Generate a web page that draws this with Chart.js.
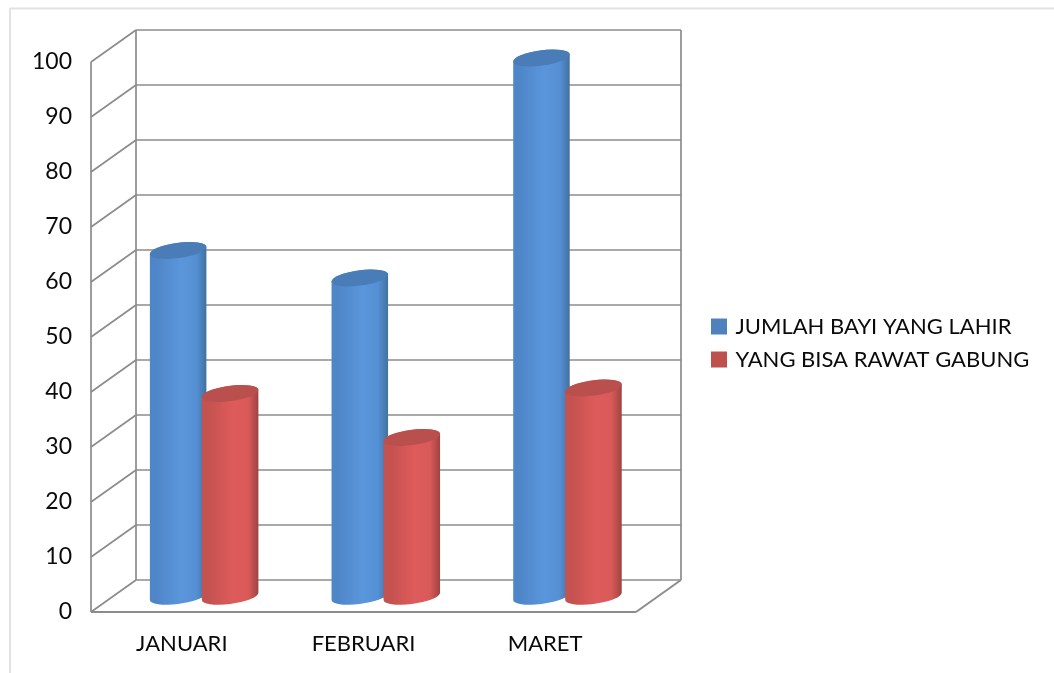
<!DOCTYPE html>
<html>
<head>
<meta charset="utf-8">
<style>
html,body{margin:0;padding:0;background:#fff;overflow:hidden}
#wrap{position:absolute;left:0;top:0;width:1054px;height:673px}
</style>
<script src="https://cdn.jsdelivr.net/npm/chart.js@4"></script>
</head>
<body>
<div id="wrap"><canvas id="c" width="1054" height="673"></canvas></div>
<script>
const categories = ['JANUARI', 'FEBRUARI', 'MARET'];
const bornName = 'JUMLAH BAYI YANG LAHIR';
const bornValues = [63, 58, 98];
const roomedName = 'YANG BISA RAWAT GABUNG';
const roomedValues = [37, 29, 38];
const FONT = 'Lato, Carlito, sans-serif';
const LINE = '#8c8c8c';
const DEPTH_X = 45, DEPTH_Y = 32;
const BAR_DX = 22.3, BAR_DY = 15;
const ROT = -7.7 * Math.PI / 180;
const shades = [
  {stops: ['#4f86c8', '#5a96dc', '#5590d4', '#41709f'], lid: '#4a7cb8'},
  {stops: ['#c4524f', '#de5b5b', '#d95959', '#9c4340'], lid: '#b9504d'}
];

function cylinder(ctx, el, shade) {
  const rx = el.width / 2 + 0.5, ry = 7.6;
  const cx = el.x + BAR_DX, top = el.y - BAR_DY, base = el.base - BAR_DY - 0.6;
  const t0 = Math.atan2(-ry * Math.sin(ROT), rx * Math.cos(ROT));
  const g = ctx.createLinearGradient(cx - rx, 0, cx + rx, 0);
  g.addColorStop(0, shade.stops[0]);
  g.addColorStop(0.12, shade.stops[0]);
  g.addColorStop(0.55, shade.stops[1]);
  g.addColorStop(0.82, shade.stops[2]);
  g.addColorStop(1, shade.stops[3]);
  ctx.beginPath();
  ctx.ellipse(cx, base, rx, ry, ROT, t0, t0 + Math.PI);
  ctx.ellipse(cx, top, rx, ry, ROT, t0 + Math.PI, t0 + 2 * Math.PI);
  ctx.closePath();
  ctx.fillStyle = g;
  ctx.fill();
  ctx.beginPath();
  ctx.ellipse(cx, top, rx, ry, ROT, 0, 2 * Math.PI);
  ctx.fillStyle = shade.lid;
  ctx.fill();
}

const stage = {
  id: 'stage',
  afterLayout(chart) {
    const l = chart.legend;
    l.top = 304.5;
    l.bottom = l.top + 200;
    l.left = 702.5;
    l.right = 1054;
  },
  beforeDraw(chart) {
    const ctx = chart.ctx;
    ctx.save();
    ctx.strokeStyle = '#e2e2e2';
    ctx.lineWidth = 2;
    ctx.beginPath();
    ctx.moveTo(10, 673);
    ctx.lineTo(10, 8.5);
    ctx.lineTo(1054, 8.5);
    ctx.stroke();
    ctx.restore();
  },
  beforeDatasetsDraw(chart) {
    const ctx = chart.ctx, y = chart.scales.y, a = chart.chartArea;
    const L = a.left, R = a.right, y0 = y.getPixelForValue(0);
    ctx.save();
    ctx.strokeStyle = LINE;
    ctx.lineWidth = 1.7;
    const seg = (x1, y1, x2, y2) => { ctx.beginPath(); ctx.moveTo(x1, y1); ctx.lineTo(x2, y2); ctx.stroke(); };
    y.ticks.forEach(t => {
      const p = y.getPixelForValue(t.value);
      seg(L, p, L + DEPTH_X, p - DEPTH_Y);
      seg(L + DEPTH_X, p - DEPTH_Y, R + DEPTH_X, p - DEPTH_Y);
    });
    const yTop = y.getPixelForValue(100);
    seg(L, yTop, L, y0);
    seg(L + DEPTH_X, yTop - DEPTH_Y, L + DEPTH_X, y0 - DEPTH_Y);
    seg(R + DEPTH_X, yTop - DEPTH_Y, R + DEPTH_X, y0 - DEPTH_Y);
    ctx.lineWidth = 2;
    seg(L, y0, R, y0);
    seg(R, y0, R + DEPTH_X, y0 - DEPTH_Y);
    ctx.restore();
    const m0 = chart.getDatasetMeta(0), m1 = chart.getDatasetMeta(1);
    categories.forEach((_, i) => {
      cylinder(ctx, m0.data[i], shades[0]);
      cylinder(ctx, m1.data[i], shades[1]);
    });
    return false;
  }
};

new Chart(document.getElementById('c'), {
  type: 'bar',
  data: {
    labels: categories,
    datasets: [
      {label: bornName, data: bornValues, backgroundColor: '#4f81bd', borderColor: '#4f81bd', borderWidth: 5,
       categoryPercentage: 0.5725, barPercentage: 1.077},
      {label: roomedName, data: roomedValues, backgroundColor: '#c0504d', borderColor: '#c0504d', borderWidth: 5,
       categoryPercentage: 0.5725, barPercentage: 1.077}
    ]
  },
  options: {
    responsive: false,
    animation: false,
    layout: {padding: {left: 0, top: 62, right: 206, bottom: 0}},
    scales: {
      x: {
        grid: {display: false},
        border: {display: false},
        ticks: {color: '#0a0a0a', font: {family: FONT, size: 22}, padding: 11, maxRotation: 0, minRotation: 0},
        afterFit(s) { s.height = 61; }
      },
      y: {
        min: 0, max: 100,
        grid: {display: false},
        border: {display: false},
        ticks: {color: '#0a0a0a', stepSize: 10, font: {family: FONT, size: 23}, padding: 11},
        afterFit(s) { s.width = 91; }
      }
    },
    plugins: {
      legend: {
        position: 'right',
        align: 'start',
        padding: 0,
        labels: {
          color: '#0a0a0a',
          font: {family: FONT, size: 22},
          boxWidth: 11,
          boxHeight: 11,
          padding: 11
        }
      },
      tooltip: {enabled: false}
    }
  },
  plugins: [stage]
});
</script>
</body>
</html>
